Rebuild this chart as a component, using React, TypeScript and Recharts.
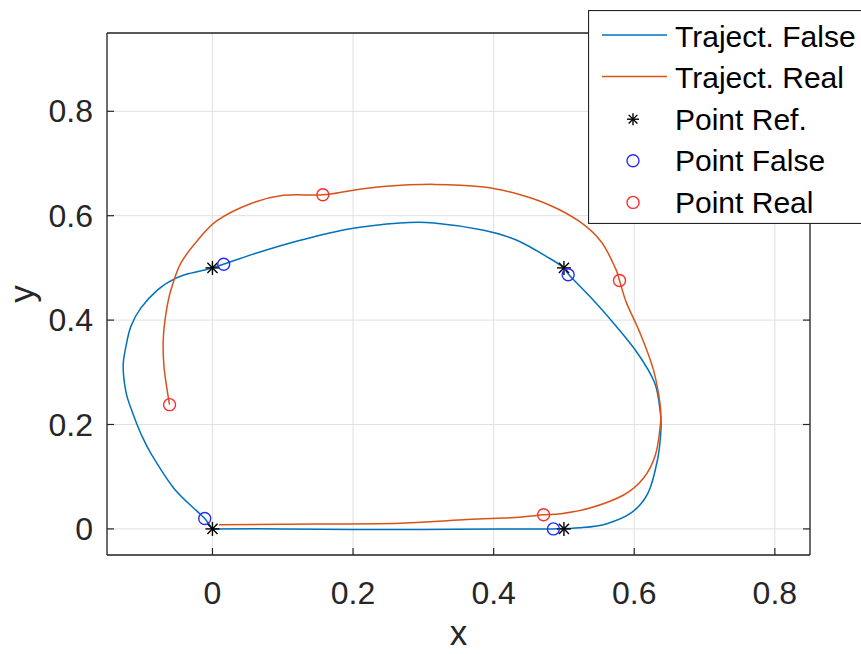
import React from 'react';
import {
  ComposedChart,
  Line,
  Scatter,
  XAxis,
  YAxis,
  CartesianGrid,
  Legend,
  Label,
} from 'recharts';

// Axis ticks (shared by both directions)
const xTicks = [0, 0.2, 0.4, 0.6, 0.8];
const yTicks = [0, 0.2, 0.4, 0.6, 0.8];
const xDomain: [number, number] = [-0.15, 0.85];
const yDomain: [number, number] = [-0.05, 0.95];

// Estimated trajectory (closed loop through the four reference corners)
const trajFalse = [
  { x: 0.0, y: 0.0 },
  { x: 0.1, y: 0.0 },
  { x: 0.2, y: -0.001 },
  { x: 0.3, y: -0.001 },
  { x: 0.409, y: 0.0 },
  { x: 0.485, y: 0.0 },
  { x: 0.523, y: 0.002 },
  { x: 0.561, y: 0.01 },
  { x: 0.597, y: 0.032 },
  { x: 0.62, y: 0.07 },
  { x: 0.633, y: 0.132 },
  { x: 0.638, y: 0.19 },
  { x: 0.637, y: 0.224 },
  { x: 0.629, y: 0.28 },
  { x: 0.604, y: 0.338 },
  { x: 0.57, y: 0.395 },
  { x: 0.537, y: 0.445 },
  { x: 0.507, y: 0.487 },
  { x: 0.499, y: 0.501 },
  { x: 0.48, y: 0.518 },
  { x: 0.433, y: 0.553 },
  { x: 0.386, y: 0.572 },
  { x: 0.315, y: 0.586 },
  { x: 0.267, y: 0.586 },
  { x: 0.196, y: 0.575 },
  { x: 0.125, y: 0.553 },
  { x: 0.064, y: 0.529 },
  { x: 0.0, y: 0.5 },
  { x: -0.031, y: 0.49 },
  { x: -0.054, y: 0.479 },
  { x: -0.078, y: 0.458 },
  { x: -0.102, y: 0.423 },
  { x: -0.116, y: 0.388 },
  { x: -0.123, y: 0.35 },
  { x: -0.127, y: 0.312 },
  { x: -0.123, y: 0.262 },
  { x: -0.114, y: 0.224 },
  { x: -0.101, y: 0.18 },
  { x: -0.086, y: 0.141 },
  { x: -0.055, y: 0.078 },
  { x: -0.022, y: 0.034 },
  { x: -0.011, y: 0.02 },
  { x: 0.0, y: 0.0 },
];

// Actual trajectory
const trajReal = [
  { x: 0.009, y: 0.008 },
  { x: 0.1, y: 0.009 },
  { x: 0.267, y: 0.011 },
  { x: 0.362, y: 0.018 },
  { x: 0.43, y: 0.022 },
  { x: 0.471, y: 0.027 },
  { x: 0.495, y: 0.029 },
  { x: 0.537, y: 0.04 },
  { x: 0.585, y: 0.065 },
  { x: 0.613, y: 0.097 },
  { x: 0.63, y: 0.141 },
  { x: 0.637, y: 0.198 },
  { x: 0.637, y: 0.236 },
  { x: 0.627, y: 0.306 },
  { x: 0.608, y: 0.376 },
  { x: 0.589, y: 0.433 },
  { x: 0.579, y: 0.476 },
  { x: 0.573, y: 0.5 },
  { x: 0.553, y: 0.55 },
  { x: 0.523, y: 0.588 },
  { x: 0.48, y: 0.62 },
  { x: 0.433, y: 0.642 },
  { x: 0.386, y: 0.655 },
  { x: 0.315, y: 0.66 },
  { x: 0.243, y: 0.656 },
  { x: 0.196, y: 0.648 },
  { x: 0.157, y: 0.64 },
  { x: 0.101, y: 0.639 },
  { x: 0.054, y: 0.623 },
  { x: 0.007, y: 0.591 },
  { x: -0.021, y: 0.553 },
  { x: -0.045, y: 0.509 },
  { x: -0.059, y: 0.458 },
  { x: -0.066, y: 0.414 },
  { x: -0.07, y: 0.363 },
  { x: -0.069, y: 0.312 },
  { x: -0.064, y: 0.262 },
  { x: -0.061, y: 0.238 },
];

// Sampled points
const pointsRef = [
  { x: 0, y: 0.5 },
  { x: 0.5, y: 0.5 },
  { x: 0, y: 0 },
  { x: 0.5, y: 0 },
];
const pointsFalse = [
  { x: 0.016, y: 0.507 },
  { x: 0.506, y: 0.487 },
  { x: 0.485, y: 0.0 },
  { x: -0.011, y: 0.02 },
];
const pointsReal = [
  { x: -0.061, y: 0.238 },
  { x: 0.157, y: 0.64 },
  { x: 0.579, y: 0.476 },
  { x: 0.471, y: 0.027 },
];

const legendLabels = [
  'Traject. False',
  'Traject. Real',
  'Point Ref.',
  'Point False',
  'Point Real',
];

const FONT = '"Liberation Sans", Arial, Helvetica, sans-serif';
const AXIS_COLOR = '#262626';
const TEXT_COLOR = '#262626';
const BLUE_LINE = '#0072BD';
const ORANGE_LINE = '#D95319';
const BLUE_MARK = '#2a2aff';
const RED_MARK = '#ff2a2a';
const TICK_LEN = 7;

// Uniform Catmull-Rom curve: passes through every sample, works for parametric paths
const catmullRom = (context: any) => {
  let pts: [number, number][] = [];
  return {
    areaStart() {},
    areaEnd() {},
    lineStart() {
      pts = [];
    },
    point(x: number, y: number) {
      pts.push([+x, +y]);
    },
    lineEnd() {
      if (!pts.length) return;
      context.moveTo(pts[0][0], pts[0][1]);
      for (let i = 0; i < pts.length - 1; i++) {
        const p0 = pts[i - 1] || pts[i];
        const p1 = pts[i];
        const p2 = pts[i + 1];
        const p3 = pts[i + 2] || p2;
        context.bezierCurveTo(
          p1[0] + (p2[0] - p0[0]) / 6,
          p1[1] + (p2[1] - p0[1]) / 6,
          p2[0] - (p3[0] - p1[0]) / 6,
          p2[1] - (p3[1] - p1[1]) / 6,
          p2[0],
          p2[1],
        );
      }
    },
  };
};

const fmt = (v: number) => (v === 0 ? '0' : String(+v.toFixed(1)));

const BottomTick = (props: any) => {
  const { x, y, payload } = props;
  return (
    <g>
      <line x1={x} x2={x} y1={y} y2={y - TICK_LEN} stroke={AXIS_COLOR} strokeWidth={1.2} />
      <text x={x} y={y + 49} textAnchor="middle" fontFamily={FONT} fontSize={32} fill={TEXT_COLOR}>
        {fmt(payload.value)}
      </text>
    </g>
  );
};

const TopTick = (props: any) => {
  const { x, y } = props;
  return <line x1={x} x2={x} y1={y} y2={y + TICK_LEN} stroke={AXIS_COLOR} strokeWidth={1.2} />;
};

const LeftTick = (props: any) => {
  const { x, y, payload } = props;
  return (
    <g>
      <line x1={x} x2={x + TICK_LEN} y1={y} y2={y} stroke={AXIS_COLOR} strokeWidth={1.2} />
      <text x={x - 14} y={y + 11} textAnchor="end" fontFamily={FONT} fontSize={32} fill={TEXT_COLOR}>
        {fmt(payload.value)}
      </text>
    </g>
  );
};

const RightTick = (props: any) => {
  const { x, y } = props;
  return <line x1={x} x2={x - TICK_LEN} y1={y} y2={y} stroke={AXIS_COLOR} strokeWidth={1.2} />;
};

const StarMark = ({ cx, cy, size = 7 }: { cx: number; cy: number; size?: number }) => {
  const d = size * 0.72;
  return (
    <g stroke="#000" strokeWidth={1.4}>
      <line x1={cx - size} x2={cx + size} y1={cy} y2={cy} />
      <line x1={cx} x2={cx} y1={cy - size} y2={cy + size} />
      <line x1={cx - d} x2={cx + d} y1={cy - d} y2={cy + d} />
      <line x1={cx - d} x2={cx + d} y1={cy + d} y2={cy - d} />
    </g>
  );
};

const CircleMark = ({ cx, cy, color }: { cx: number; cy: number; color: string }) => (
  <circle cx={cx} cy={cy} r={6} fill="none" stroke={color} strokeWidth={1.4} />
);

const renderLegend = () => {
  const rowY = (i: number) => 26 + i * 41.6;
  return (
    <svg width={273} height={214} style={{ display: 'block' }}>
      <rect x={0.5} y={0.5} width={300} height={213} fill="#fff" stroke={AXIS_COLOR} strokeWidth={1.2} />
      {legendLabels.map((label, i) => {
        const y = rowY(i);
        let sample: React.ReactNode = null;
        if (i === 0) sample = <line x1={14} x2={79} y1={y - 1} y2={y - 1} stroke={BLUE_LINE} strokeWidth={1.5} />;
        if (i === 1) sample = <line x1={14} x2={79} y1={y - 1} y2={y - 1} stroke={ORANGE_LINE} strokeWidth={1.5} />;
        if (i === 2) sample = <StarMark cx={45} cy={y} size={6} />;
        if (i === 3) sample = <CircleMark cx={45} cy={y} color={BLUE_MARK} />;
        if (i === 4) sample = <CircleMark cx={45} cy={y} color={RED_MARK} />;
        return (
          <g key={label}>
            {sample}
            <text x={87} y={y + 10.5} fontFamily={FONT} fontSize={30} fill="#000">
              {label}
            </text>
          </g>
        );
      })}
    </svg>
  );
};

export default function App() {
  return (
    <div style={{ position: 'absolute', left: 0, top: 0, width: 861, height: 654, background: '#fff' }}>
      <ComposedChart width={861} height={654} margin={{ top: 32, right: 50, bottom: 98, left: 106 }}>
        <CartesianGrid stroke="#e1e1e1" strokeWidth={1} />
        <XAxis
          type="number"
          dataKey="x"
          domain={xDomain}
          ticks={xTicks}
          interval={0}
          allowDataOverflow
          height={1}
          tickSize={0}
          tickMargin={0}
          tick={<BottomTick />}
          axisLine={{ stroke: AXIS_COLOR, strokeWidth: 1.3 }}
          tickLine={false}
        >
          <Label
            content={(p: any) => {
              const vb = p.viewBox;
              return (
                <text x={vb.x + vb.width / 2} y={vb.y + 90} textAnchor="middle" fontFamily={FONT} fontSize={35} fill={TEXT_COLOR}>
                  x
                </text>
              );
            }}
          />
        </XAxis>
        <XAxis
          xAxisId="top"
          orientation="top"
          type="number"
          domain={xDomain}
          ticks={xTicks}
          interval={0}
          allowDataOverflow
          height={1}
          tickSize={0}
          tickMargin={0}
          tick={<TopTick />}
          axisLine={{ stroke: AXIS_COLOR, strokeWidth: 1.3 }}
          tickLine={false}
        />
        <YAxis
          type="number"
          dataKey="y"
          domain={yDomain}
          ticks={yTicks}
          interval={0}
          allowDataOverflow
          width={1}
          tickSize={0}
          tickMargin={0}
          tick={<LeftTick />}
          axisLine={{ stroke: AXIS_COLOR, strokeWidth: 1.3 }}
          tickLine={false}
        >
          <Label
            content={(p: any) => {
              const vb = p.viewBox;
              const cx = vb.x - 72;
              const cy = vb.y + vb.height / 2;
              return (
                <text
                  x={cx}
                  y={cy}
                  transform={`rotate(-90, ${cx}, ${cy})`}
                  textAnchor="middle"
                  fontFamily={FONT}
                  fontSize={35}
                  fill={TEXT_COLOR}
                >
                  y
                </text>
              );
            }}
          />
        </YAxis>
        <YAxis
          yAxisId="right"
          orientation="right"
          type="number"
          domain={yDomain}
          ticks={yTicks}
          interval={0}
          allowDataOverflow
          width={1}
          tickSize={0}
          tickMargin={0}
          tick={<RightTick />}
          axisLine={{ stroke: AXIS_COLOR, strokeWidth: 1.3 }}
          tickLine={false}
        />
        <Line
          name="Traject. False"
          data={trajFalse}
          dataKey="y"
          type={catmullRom as any}
          stroke={BLUE_LINE}
          strokeWidth={1.5}
          dot={false}
          activeDot={false}
          isAnimationActive={false}
        />
        <Line
          name="Traject. Real"
          data={trajReal}
          dataKey="y"
          type={catmullRom as any}
          stroke={ORANGE_LINE}
          strokeWidth={1.5}
          dot={false}
          activeDot={false}
          isAnimationActive={false}
        />
        <Scatter
          name="Point Ref."
          data={pointsRef}
          dataKey="y"
          shape={(p: any) => <StarMark cx={p.cx} cy={p.cy} />}
          isAnimationActive={false}
        />
        <Scatter
          name="Point False"
          data={pointsFalse}
          dataKey="y"
          shape={(p: any) => <CircleMark cx={p.cx} cy={p.cy} color={BLUE_MARK} />}
          isAnimationActive={false}
        />
        <Scatter
          name="Point Real"
          data={pointsReal}
          dataKey="y"
          shape={(p: any) => <CircleMark cx={p.cx} cy={p.cy} color={RED_MARK} />}
          isAnimationActive={false}
        />
        <Legend
          layout="horizontal"
          verticalAlign="middle"
          align="center"
          wrapperStyle={{ left: 588, top: 10, width: 273, height: 214 }}
          content={renderLegend}
        />
      </ComposedChart>
    </div>
  );
}
